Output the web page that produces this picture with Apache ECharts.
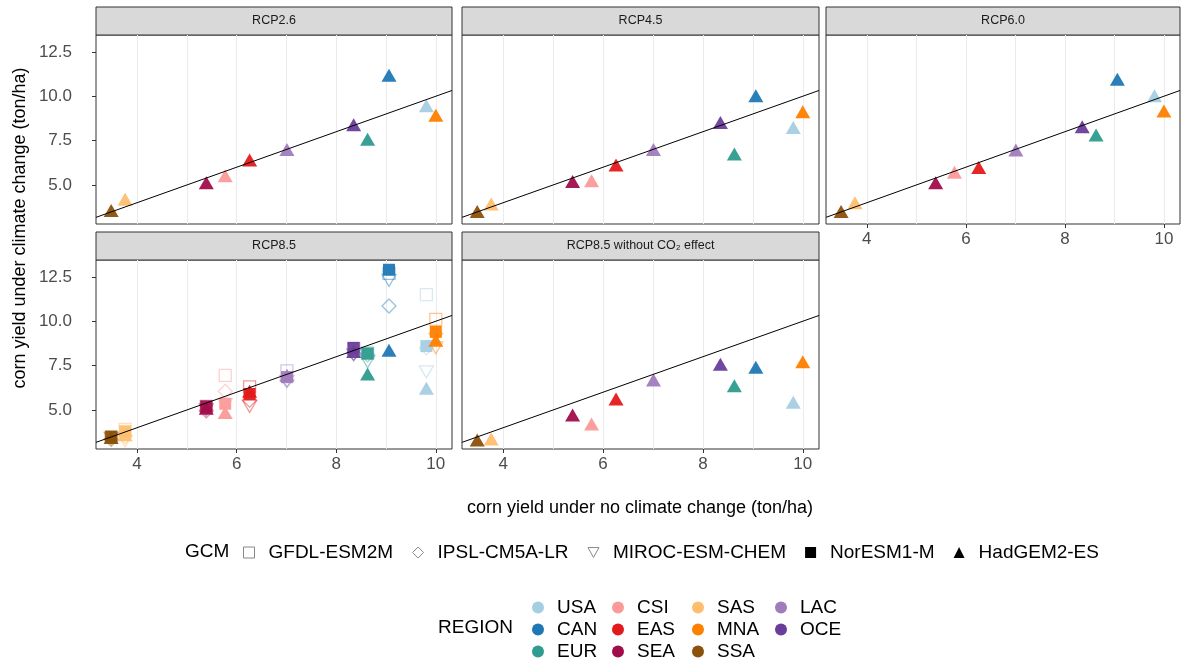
<!DOCTYPE html>
<html lang="en">
<head>
  <meta charset="UTF-8">
  <title>corn yield</title>
  <style>
    html, body { margin: 0; padding: 0; background: #fff; }
  </style>
</head>
<body>
  <div id="main" style="width:1181px;height:662px"></div>
  <script src="https://cdn.jsdelivr.net/npm/echarts@6/dist/echarts.min.js"></script>
  <script>
    var myChart = echarts.init(document.getElementById('main'))
    var font = 'Liberation Sans, Arial, sans-serif'

    // regions and their colours
    var regions = ['USA', 'CAN', 'EUR', 'CSI', 'EAS', 'SEA', 'SAS', 'MNA', 'SSA', 'LAC', 'OCE']
    var regionColors = ['#a6cee3', '#1f78b4', '#2e9c8e', '#fb9a99', '#e31a1c', '#a10d4b',
                        '#fdbf6f', '#ff7f00', '#8c510a', '#a07cbd', '#6a3d9a']

    // corn yield under no climate change (x), per region
    var baseYield = [9.81, 9.06, 8.63, 5.77, 6.26, 5.39, 3.76, 10.0, 3.48, 7.01, 8.35]

    // corn yield under climate change (y), per region
    var rcp26 = [9.46, 11.18, 7.57, 5.52, 6.40, 5.13, 4.20, 8.93, 3.56, 7.00, 8.39]
    var rcp45 = [8.24, 10.02, 6.74, 5.24, 6.12, 5.19, 3.93, 9.12, 3.50, 7.00, 8.52]
    var rcp60 = [10.02, 10.96, 7.81, 5.71, 5.99, 5.13, 4.00, 9.17, 3.50, 6.97, 8.28]
    var noCO2 = [5.43, 7.40, 6.37, 4.21, 5.62, 4.72, 3.37, 7.71, 3.31, 6.69, 7.58]
    // RCP8.5, one list per GCM
    var rcp85Gfdl = [11.50, 12.70, 8.20, 6.95, 6.30, 5.20, 3.90, 10.10, 3.45, 7.20, 8.45]
    var rcp85Ipsl = [8.50, 10.86, 8.10, 6.05, 5.55, 4.95, 3.50, 9.30, 3.35, 6.70, 8.20]
    var rcp85Miroc = [7.15, 12.30, 7.71, 5.30, 5.20, 5.00, 3.25, 8.50, 3.40, 6.60, 8.10]
    var rcp85Nor = [8.60, 12.90, 8.18, 5.35, 5.90, 5.20, 3.80, 9.40, 3.50, 6.85, 8.50]
    var rcp85Had = [6.22, 8.37, 7.02, 4.85, 6.05, 5.10, 3.60, 8.93, 3.45, 6.95, 8.30]

    var gcms = ['GFDL-ESM2M', 'IPSL-CM5A-LR', 'MIROC-ESM-CHEM', 'NorESM1-M', 'HadGEM2-ES']
    var downTri = 'path://M0,0L10,0L5,9Z'
    var gcmSymbols = ['rect', 'diamond', downTri, 'rect', 'triangle']
    var gcmSizes = [[12, 12], [14, 14], [14, 12], [12, 12], [15, 13]]
    var gcmFilled = [false, false, false, true, true]

    // axes
    var xLim = [3.175, 10.325]
    var yLim = [2.8, 13.45]
    var xTicks = [4, 6, 8, 10]
    var xGrid = [4, 5, 6, 7, 8, 9, 10]
    var yTicks = [5, 7.5, 10, 12.5]

    // facets: title, values per GCM (index into gcms)
    var panels = [
      { title: 'RCP2.6', sets: [[4, rcp26]] },
      { title: 'RCP4.5', sets: [[4, rcp45]] },
      { title: 'RCP6.0', sets: [[4, rcp60]] },
      { title: 'RCP8.5', sets: [[0, rcp85Gfdl], [1, rcp85Ipsl], [2, rcp85Miroc], [3, rcp85Nor], [4, rcp85Had]] },
      { title: 'RCP8.5 without CO\u2082 effect', sets: [[4, noCO2]] }
    ]
    // layout of the facets
    var boxes = [
      { left: 96, top: 35, width: 356, showX: false, showY: true },
      { left: 462, top: 35, width: 357, showX: false, showY: false },
      { left: 826, top: 35, width: 354, showX: true, showY: false },
      { left: 96, top: 260, width: 356, showX: true, showY: true },
      { left: 462, top: 260, width: 357, showX: true, showY: false }
    ]
    var panelH = 189
    var stripH = 28

    var grids = [], xAxes = [], yAxes = [], series = [], graphics = []

    boxes.forEach(function (b, k) {
      grids.push({ left: b.left, top: b.top, width: b.width, height: panelH, show: true,
                   borderColor: '#333', borderWidth: 1, backgroundColor: '#fff' })
      xAxes.push({
        type: 'value', gridIndex: k, min: xLim[0], max: xLim[1],
        axisLine: { show: false },
        splitLine: { show: false },
        axisTick: { show: b.showX, customValues: xTicks, length: 4, lineStyle: { color: '#333' } },
        axisLabel: { show: b.showX, customValues: xTicks, color: '#4d4d4d', fontSize: 17,
                     fontFamily: font, margin: 7 }
      })
      yAxes.push({
        type: 'value', gridIndex: k, min: yLim[0], max: yLim[1],
        axisLine: { show: false },
        splitLine: { show: false },
        axisTick: { show: b.showY, customValues: yTicks, length: 4, lineStyle: { color: '#333' } },
        axisLabel: { show: b.showY, customValues: yTicks, color: '#4d4d4d', fontSize: 17,
                     fontFamily: font, margin: 24,
                     formatter: function (v) { return v.toFixed(1) } }
      })
      // vertical grid lines
      series.push({
        type: 'line', xAxisIndex: k, yAxisIndex: k, data: [], silent: true,
        markLine: { silent: true, z: 1, symbol: 'none', label: { show: false },
                    lineStyle: { color: '#ebebeb', width: 1, type: 'solid' },
                    emphasis: { disabled: true },
                    data: xGrid.map(function (v) { return { xAxis: v } }) }
      })
      // points
      panels[k].sets.forEach(function (s) {
        var g = s[0], vals = s[1]
        series.push({
          type: 'scatter', name: gcms[g], xAxisIndex: k, yAxisIndex: k, z: 2,
          symbol: gcmSymbols[g], symbolSize: gcmSizes[g],
          data: baseYield.map(function (x, i) {
            var st = gcmFilled[g]
              ? { color: regionColors[i], opacity: 0.95 }
              : { color: 'rgba(0,0,0,0)', borderColor: regionColors[i], borderWidth: 1.3, opacity: 0.45 }
            return { value: [x, vals[i]], itemStyle: st }
          })
        })
      })
      // y = x reference line
      series.push({
        type: 'line', xAxisIndex: k, yAxisIndex: k, z: 4, silent: true,
        symbol: 'none', lineStyle: { color: '#000', width: 1 },
        data: [[xLim[0], xLim[0]], [xLim[1], xLim[1]]]
      })
      // strip
      graphics.push({
        type: 'rect', shape: { x: b.left, y: b.top - stripH, width: b.width, height: stripH },
        style: { fill: '#d9d9d9', stroke: '#333', lineWidth: 1 }
      })
      graphics.push({
        type: 'text', x: b.left + b.width / 2, y: b.top - stripH / 2,
        style: { text: panels[k].title, fill: '#1a1a1a', font: '12.5px ' + font,
                 textAlign: 'center', textVerticalAlign: 'middle' }
      })
    })

    // empty series so the REGION legend has colour keys
    regions.forEach(function (r, i) {
      series.push({ type: 'scatter', name: r, xAxisIndex: 0, yAxisIndex: 0, data: [],
                    itemStyle: { color: regionColors[i], opacity: 1 } })
    })

    // axis titles and legend titles
    graphics.push({
      type: 'text', x: 20, y: 228, rotation: Math.PI / 2,
      style: { text: 'corn yield under climate change (ton/ha)', fill: '#000', font: '18px ' + font,
               textAlign: 'center', textVerticalAlign: 'middle' }
    })
    graphics.push({
      type: 'text', x: 640, y: 508,
      style: { text: 'corn yield under no climate change (ton/ha)', fill: '#000', font: '18px ' + font,
               textAlign: 'center', textVerticalAlign: 'middle' }
    })
    graphics.push({
      type: 'text', x: 185, y: 552,
      style: { text: 'GCM', fill: '#000', font: '19px ' + font, textVerticalAlign: 'middle' }
    })
    graphics.push({
      type: 'text', x: 438, y: 628,
      style: { text: 'REGION', fill: '#000', font: '19px ' + font, textVerticalAlign: 'middle' }
    })

    var gcmLegend = {
      left: 238, top: 538, orient: 'horizontal', selectedMode: false,
      itemWidth: 11, itemHeight: 11, itemGap: 19,
      textStyle: { fontSize: 19, fontFamily: font, color: '#000', padding: [0, 0, 0, 9] },
      data: gcms.map(function (g, j) {
        return {
          name: g, icon: gcmSymbols[j],
          itemStyle: gcmFilled[j]
            ? { color: '#000', borderWidth: 0, opacity: 1 }
            : { color: 'rgba(0,0,0,0)', borderColor: '#888', borderWidth: 1, opacity: 1 }
        }
      })
    }

    // REGION legend: columns filled top to bottom
    var regionCols = [['USA', 'CAN', 'EUR'], ['CSI', 'EAS', 'SEA'], ['SAS', 'MNA', 'SSA'], ['LAC', 'OCE']]
    var regionColLeft = [527, 607, 687, 770]
    var regionLegends = regionCols.map(function (col, c) {
      return {
        left: regionColLeft[c], top: 593, height: 80, orient: 'vertical', selectedMode: false,
        itemWidth: 12, itemHeight: 12, itemGap: 3, icon: 'circle',
        textStyle: { fontSize: 19, fontFamily: font, color: '#000', lineHeight: 19,
                     padding: [0, 0, 0, 8] },
        data: col.map(function (r) {
          return { name: r, itemStyle: { color: regionColors[regions.indexOf(r)], borderWidth: 0, opacity: 1 } }
        })
      }
    })

    var options = {
      animation: false,
      backgroundColor: '#fff',
      grid: grids,
      xAxis: xAxes,
      yAxis: yAxes,
      legend: [gcmLegend].concat(regionLegends),
      graphic: graphics,
      series: series
    }

    myChart.setOption(options)
  </script>
</body>
</html>
